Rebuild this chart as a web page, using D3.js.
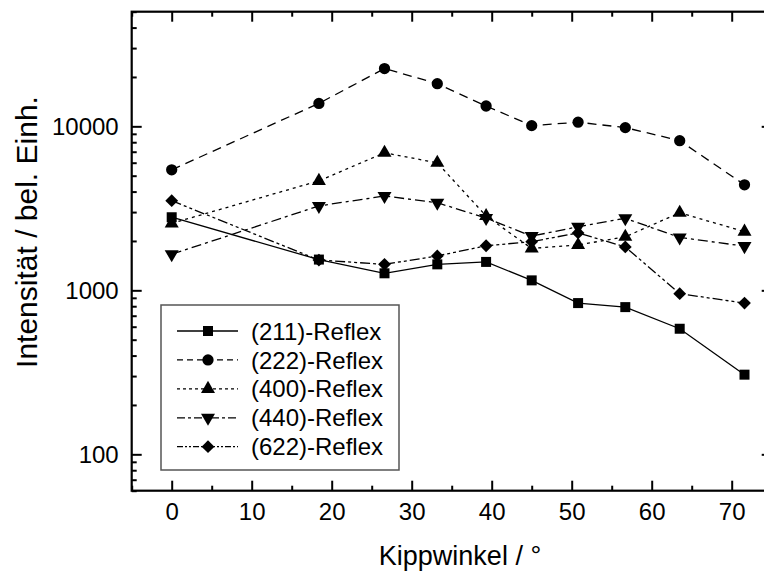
<!DOCTYPE html>
<html>
<head>
<meta charset="utf-8">
<script src="https://cdn.jsdelivr.net/npm/d3@7"></script>
<style>
  html, body { margin: 0; padding: 0; background: #fff; }
  svg { display: block; }
  text { font-family: "Liberation Sans", Arial, sans-serif; fill: #000; }
</style>
</head>
<body>
<svg id="chart" width="764" height="572"></svg>
<script>
// Kippwinkel (tilt angle, degrees)
const angles = [0, 18.4, 26.6, 33.2, 39.3, 45.0, 50.8, 56.7, 63.5, 71.6];

// Integrated intensities per reflex (arbitrary units)
const r211 = [2790, 1540, 1270, 1440, 1490, 1150, 836, 790, 583, 306];
const r222 = [5430, 13800, 22500, 18200, 13300, 10100, 10600, 9820, 8180, 4400];
const r400 = [2560, 4650, 6900, 5990, 2840, 1800, 1890, 2120, 2970, 2280];
const r440 = [1660, 3270, 3760, 3420, 2760, 2140, 2440, 2750, 2100, 1860];
const r622 = [3520, 1530, 1440, 1620, 1870, 1980, 2240, 1840, 954, 836];

const seriesNames = ["(211)-Reflex", "(222)-Reflex", "(400)-Reflex", "(440)-Reflex", "(622)-Reflex"];
const xTicks = [0, 10, 20, 30, 40, 50, 60, 70];
const yTicks = [100, 1000, 10000];
const xTitle = "Kippwinkel / °";
const yTitle = "Intensität / bel. Einh.";

const seriesValues = [r211, r222, r400, r440, r622];
const dashes = [null, "9,6", "3,4", "10,4,3,4", "10,3,3,3,3,3"];
const legendDashes = [null, "6,4", "3,3", "8,3,3,3", "6,2,2,2,2,2"];

// symbol generators for each series marker
const markers = [
  { type: d3.symbolSquare, size: 100, rot: 0 },
  { type: d3.symbolCircle, size: 100, rot: 0 },
  { type: d3.symbolTriangle, size: 85, rot: 0 },
  { type: d3.symbolTriangle, size: 85, rot: 180 },
  { type: d3.symbolSquare, size: 82, rot: 45 }
];

const svg = d3.select("#chart");
const plotLeft = 131.7, plotRight = 771.7, plotTop = 11.7, plotBottom = 490.7;

const x = d3.scaleLinear().domain([-5, 75]).range([plotLeft, plotRight]);
const y = d3.scaleLog().domain([60, 50000]).range([plotBottom, plotTop]);

// minor tick values
const xMinor = d3.range(-5, 76, 5).filter(v => v % 10 !== 0);
const yMinor = [];
for (let e = 1; e <= 4; e++) {
  for (let m = 2; m <= 9; m++) {
    const v = m * Math.pow(10, e);
    if (v >= 60 && v <= 50000) yMinor.push(v);
  }
}

const axisStyle = g => {
  g.select(".domain").remove();
  g.selectAll(".tick line").attr("stroke", "#000").attr("stroke-width", 2);
};

// bottom axis (ticks point inward)
svg.append("g").attr("transform", `translate(0,${plotBottom})`)
  .call(d3.axisBottom(x).tickValues(xTicks).tickSize(-10).tickPadding(12).tickFormat(d3.format("d")))
  .call(axisStyle)
  .call(g => g.selectAll("text").attr("font-size", 24).attr("dy", "0.71em"));
svg.append("g").attr("transform", `translate(0,${plotBottom})`)
  .call(d3.axisBottom(x).tickValues(xMinor).tickSize(-5).tickFormat(""))
  .call(axisStyle);

// top axis
svg.append("g").attr("transform", `translate(0,${plotTop})`)
  .call(d3.axisTop(x).tickValues(xTicks).tickSize(-10).tickFormat(""))
  .call(axisStyle);
svg.append("g").attr("transform", `translate(0,${plotTop})`)
  .call(d3.axisTop(x).tickValues(xMinor).tickSize(-5).tickFormat(""))
  .call(axisStyle);

// left axis
svg.append("g").attr("transform", `translate(${plotLeft},0)`)
  .call(d3.axisLeft(y).tickValues(yTicks).tickSize(-10).tickPadding(13).tickFormat(d3.format("d")))
  .call(axisStyle)
  .call(g => g.selectAll("text").attr("font-size", 24));
svg.append("g").attr("transform", `translate(${plotLeft},0)`)
  .call(d3.axisLeft(y).tickValues(yMinor).tickSize(-5).tickFormat(""))
  .call(axisStyle);

// right axis
svg.append("g").attr("transform", `translate(${plotRight},0)`)
  .call(d3.axisRight(y).tickValues(yTicks).tickSize(-10).tickFormat(""))
  .call(axisStyle);
svg.append("g").attr("transform", `translate(${plotRight},0)`)
  .call(d3.axisRight(y).tickValues(yMinor).tickSize(-5).tickFormat(""))
  .call(axisStyle);

// frame
svg.append("rect")
  .attr("x", plotLeft).attr("y", plotTop)
  .attr("width", plotRight - plotLeft).attr("height", plotBottom - plotTop)
  .attr("fill", "none").attr("stroke", "#000").attr("stroke-width", 2.2);

// axis titles
svg.append("text")
  .attr("x", 460).attr("y", 565)
  .attr("text-anchor", "middle").attr("font-size", 27)
  .text(xTitle);
svg.append("text")
  .attr("transform", "translate(37,232) rotate(-90)")
  .attr("text-anchor", "middle").attr("font-size", 30)
  .text(yTitle);

// series lines and markers
const line = d3.line().x(d => x(d[0])).y(d => y(d[1]));
const plot = svg.append("g");
seriesValues.forEach((vals, i) => {
  const pts = angles.map((a, j) => [a, vals[j]]);
  plot.append("path")
    .datum(pts)
    .attr("d", line)
    .attr("fill", "none")
    .attr("stroke", "#000")
    .attr("stroke-width", 1.3)
    .attr("stroke-dasharray", dashes[i]);
});
seriesValues.forEach((vals, i) => {
  const pts = angles.map((a, j) => [a, vals[j]]);
  const m = markers[i];
  plot.selectAll(null).data(pts).enter().append("path")
    .attr("d", d3.symbol().type(m.type).size(m.size)())
    .attr("transform", d => `translate(${x(d[0])},${y(d[1])}) rotate(${m.rot})`)
    .attr("fill", "#000");
});

// legend
const lg = svg.append("g");
lg.append("rect")
  .attr("x", 161).attr("y", 305).attr("width", 238).attr("height", 165)
  .attr("fill", "#fff").attr("stroke", "#555").attr("stroke-width", 1.5);
const rowY = d3.scaleLinear().domain([0, 4]).range([331, 446.7]);
seriesNames.forEach((name, i) => {
  const yy = rowY(i);
  lg.append("line")
    .attr("x1", 177).attr("x2", 238).attr("y1", yy).attr("y2", yy)
    .attr("stroke", "#000").attr("stroke-width", 1.3)
    .attr("stroke-dasharray", legendDashes[i]);
  const m = markers[i];
  lg.append("path")
    .attr("d", d3.symbol().type(m.type).size(m.size)())
    .attr("transform", `translate(208,${yy}) rotate(${m.rot})`)
    .attr("fill", "#000");
  lg.append("text")
    .attr("x", 251).attr("y", yy).attr("dy", "0.36em")
    .attr("font-size", 24)
    .text(name);
});
</script>
</body>
</html>
